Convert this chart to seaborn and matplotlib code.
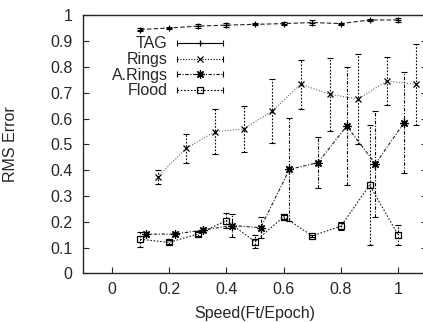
import matplotlib
matplotlib.use("Agg")
import matplotlib.pyplot as plt
import seaborn as sns
import numpy as np
from matplotlib.lines import Line2D
from matplotlib.legend_handler import HandlerLine2D

# values
speed = [0.1, 0.2, 0.3, 0.4, 0.5, 0.6, 0.7, 0.8, 0.9, 1.0]

tag_rmse = [0.945, 0.951, 0.958, 0.962, 0.965, 0.968, 0.972, 0.968, 0.982, 0.982]
tag_err = [0.004, 0.004, 0.009, 0.008, 0.004, 0.006, 0.010, 0.004, 0.004, 0.009]

rings_speed = [0.16, 0.26, 0.36, 0.46, 0.56, 0.66, 0.76, 0.86, 0.96, 1.06]
rings_rmse = [0.374, 0.484, 0.549, 0.559, 0.629, 0.733, 0.694, 0.676, 0.745, 0.733]
rings_err = [0.027, 0.056, 0.088, 0.088, 0.124, 0.095, 0.141, 0.176, 0.092, 0.157]

arings_speed = [0.12, 0.22, 0.32, 0.42, 0.52, 0.62, 0.72, 0.82, 0.92, 1.02]
arings_rmse = [0.152, 0.152, 0.168, 0.185, 0.177, 0.403, 0.429, 0.571, 0.424, 0.584]
arings_err = [0.008, 0.006, 0.008, 0.046, 0.040, 0.200, 0.100, 0.228, 0.205, 0.197]

flood_rmse = [0.132, 0.120, 0.152, 0.204, 0.123, 0.219, 0.145, 0.183, 0.342, 0.148]
flood_err = [0.030, 0.008, 0.008, 0.028, 0.026, 0.008, 0.005, 0.014, 0.234, 0.040]

labels = ["TAG", "Rings", "A.Rings", "Flood"]
xticks = [0, 0.2, 0.4, 0.6, 0.8, 1]

sns.set_style("ticks")
plt.rcParams['font.family'] = ['Liberation Sans', 'DejaVu Sans']
FS = 11.5

fig = plt.figure(figsize=(4.23, 3.22), dpi=100)
ax = fig.add_axes([0.1962, 0.1512, 0.8132, 0.8012])

series = [
    # x, y, err, marker, ms, line dash, bar dash, line colour
    (speed, tag_rmse, tag_err, "+", 5, (0, (4, 2)), (0, (4, 2)), "#222222"),
    (rings_speed, rings_rmse, rings_err, "x", 5, (0, (1, 1.5)), (0, (1.5, 1.5)), "#666666"),
    (arings_speed, arings_rmse, arings_err, (8, 2, 0), 6, (0, (3, 1.5, 1, 1.5)), (0, (3, 1.5, 1, 1.5)), "#222222"),
    (speed, flood_rmse, flood_err, "s", 5, (0, (1.5, 1.5)), (0, (1.5, 1.5)), "#222222"),
]

for x, y, err, mk, ms, ls, bls, col in series:
    sns.lineplot(x=x, y=y, ax=ax, color=col, linestyle=ls, linewidth=0.8,
                 marker=mk, markersize=ms, markerfacecolor="none",
                 markeredgecolor="black", markeredgewidth=0.9)
    cont = ax.errorbar(x, y, yerr=err, fmt="none", ecolor="black",
                       elinewidth=0.8, capsize=2.5, capthick=0.8)
    cont.lines[2][0].set_linestyle(bls)

ax.set_xlim(-0.1, 1.1)
ax.set_ylim(0, 1)
ax.set_xticks(xticks)
ax.set_xticklabels(["0", "0.2", "0.4", "0.6", "0.8", "1"])
ax.set_yticks(np.arange(0, 1.01, 0.1))
ax.set_yticklabels(["0", "0.1", "0.2", "0.3", "0.4", "0.5", "0.6", "0.7", "0.8", "0.9", "1"])
ax.tick_params(axis="both", direction="in", length=4, width=0.8, labelsize=FS)
ax.tick_params(axis="y", right=True, pad=7.5)
ax.tick_params(axis="x", pad=6)
for s in ax.spines.values():
    s.set_linewidth(1.0)

ax.set_xlabel("Speed(Ft/Epoch)", fontsize=FS)
ax.set_ylabel("RMS Error", fontsize=FS)
ax.xaxis.set_label_coords(0.5, -0.125)
ax.yaxis.set_label_coords(-0.19, 0.5)

# gnuplot-style legend samples: line + marker with end caps
handles = []
hmap = {}
legend_styles = [("-", "+", 5), ((0, (1, 1.5)), "x", 5),
                 ((0, (3, 1.5, 1, 1.5)), (8, 2, 0), 6), ((0, (1.5, 1.5)), "s", 5)]
for ls, mk, ms in legend_styles:
    main = Line2D([], [], color="black", linestyle=ls, linewidth=0.8, marker=mk,
                  markersize=ms, markerfacecolor="none", markeredgewidth=0.9)
    caps = Line2D([], [], color="black", linestyle="none", marker="|",
                  markersize=5, markeredgewidth=0.8)
    hmap[caps] = HandlerLine2D(numpoints=2, marker_pad=0)
    handles.append((main, caps))

ax.legend(handles, labels, handler_map=hmap, loc="upper right",
          bbox_to_anchor=(0.406, 0.918), markerfirst=False, frameon=False,
          fontsize=FS, handlelength=2.87, handletextpad=0.57, labelspacing=0.04,
          borderpad=0, borderaxespad=0)

fig.savefig("out.png", dpi=100)
